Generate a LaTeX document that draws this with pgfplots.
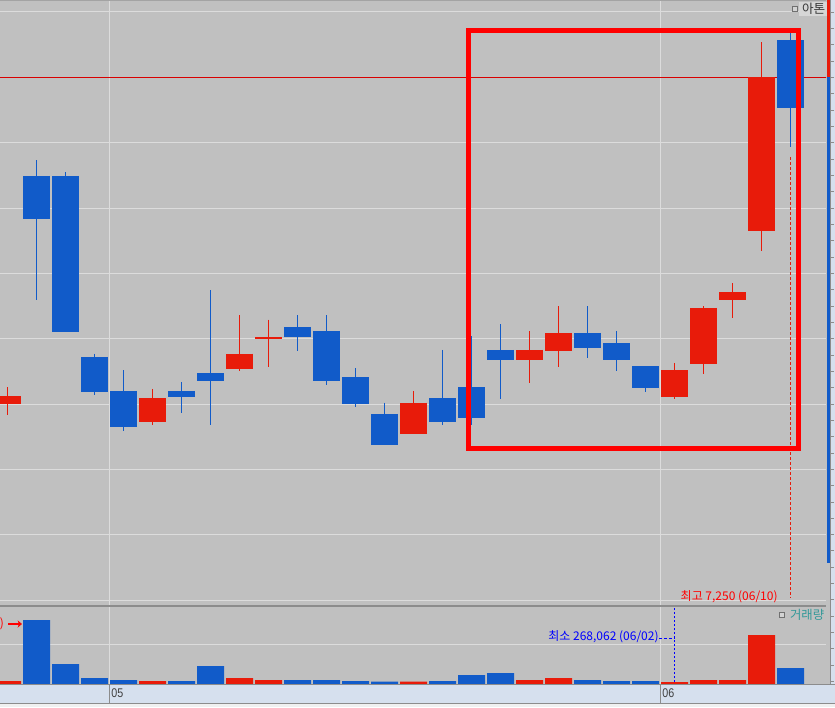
\documentclass[border=0pt]{standalone}
\usepackage{pgfplots}
\pgfplotsset{compat=1.18}
\usepackage{pgfplotstable}
\usepackage{fontspec}
\setmainfont{Liberation Sans}
\newfontfamily\kr{Noto Sans CJK KR}
\usetikzlibrary{arrows.meta}
\definecolor{bgc}{HTML}{C0C0C0}
\definecolor{gridc}{HTML}{DCDCDC}
\definecolor{upc}{HTML}{E81B0A}
\definecolor{dnc}{HTML}{115BC9}
\definecolor{sepc}{HTML}{8C8C8C}
\definecolor{stripc}{HTML}{D6E0EE}
\definecolor{tealc}{HTML}{339999}
\definecolor{boxc}{HTML}{FF0000}
\definecolor{prc}{HTML}{D80000}

% up (red) candles: index, open, high, low, close
\pgfplotstableread{
i O H L C
0 4400 4530 4315 4460
5 4260 4515 4240 4445
8 4670 5080 4650 4785
9 4901 5045 4685 4909
14 4170 4500 4170 4410
18 4735 4960 4560 4815
19 4805 5150 4685 4945
23 4455 4715 4440 4660
24 4705 5150 4630 5135
25 5195 5325 5060 5255
26 5725 7170 5570 6900
}\up
% down (blue) candles
\pgfplotstableread{
i O H L C
1 6145 6265 5195 5815
2 6145 6175 4950 4950
3 4760 4785 4470 4490
4 4500 4660 4195 4225
6 4500 4570 4330 4455
7 4635 5270 4240 4575
10 4990 5080 4805 4915
11 4960 5080 4545 4575
12 4605 4675 4375 4400
13 4325 4410 4085 4085
15 4445 4815 4240 4260
16 4530 4920 4240 4295
17 4815 5010 4440 4735
20 4945 5150 4750 4830
21 4865 4960 4650 4735
22 4690 4690 4490 4520
27 7185 7250 6365 6665
}\dn
% volume (thousands)
\pgfplotstableread{
i v
0 402
5 402
8 804
9 536
14 320
18 536
19 804
23 268.062
24 536
25 536
26 6568
}\vup
\pgfplotstableread{
i v
1 8578
2 2681
3 804
4 536
6 402
7 2413
10 536
11 536
12 402
13 330
15 402
16 1206
17 1474
20 536
21 402
22 402
27 2144
}\vdn

\begin{document}
\begin{tikzpicture}
\useasboundingbox (0,0) rectangle (417.5pt,-353.5pt);
\fill[bgc] (0,0) rectangle (417.5pt,-342.5pt);
% right price strip
\fill[stripc] (415pt,0) rectangle (417.5pt,-342.5pt);
\draw[sepc, line width=0.5pt] (415.25pt,0) -- (415.25pt,-342.5pt);
\foreach \k in {0,...,41} {\draw[sepc, line width=0.4pt] (415.5pt,-6pt-\k*8.165pt) -- ++(1.5pt,0);}
% date strip
\fill[stripc] (0,-342.5pt) rectangle (417.5pt,-351.5pt);
\fill[white!94!black] (0,-351.5pt) rectangle (417.5pt,-353.5pt);

\begin{axis}[
  at={(0pt,0pt)}, anchor=north west,
  scale only axis, width=413pt, height=303pt,
  xmin=-0.25862, xmax=28.22414,
  ymin=2854.1, ymax=7491.8,
  axis line style={draw=none},
  major tick length=0pt,
  scaled ticks=false,
  xtick={3.5,22.5}, ytick={2900,3400,...,7400},
  xticklabels={}, yticklabels={},
  grid=major, grid style={draw=gridc, line width=0.5pt},
]
\addplot[prc, line width=0.5pt, mark=none] coordinates {(-0.3,6900) (28.3,6900)};
% wicks
\addplot[mark=none, draw=none, error bars/.cd, y dir=minus, y explicit, error mark=none,
  error bar style={draw=upc, line width=0.5pt}]
  table[x=i, y=H, y error minus expr=\thisrow{H}-\thisrow{L}] {\up};
\addplot[mark=none, draw=none, error bars/.cd, y dir=minus, y explicit, error mark=none,
  error bar style={draw=dnc, line width=0.5pt}]
  table[x=i, y=H, y error minus expr=\thisrow{H}-\thisrow{L}] {\dn};
% bodies
\addplot[mark=none, draw=none, error bars/.cd, y dir=minus, y explicit, error mark=none,
  error bar style={draw=upc, line width=13.5pt}]
  table[x=i, y=C, y error minus expr=\thisrow{C}-\thisrow{O}] {\up};
\addplot[mark=none, draw=none, error bars/.cd, y dir=minus, y explicit, error mark=none,
  error bar style={draw=dnc, line width=13.5pt}]
  table[x=i, y=O, y error minus expr=\thisrow{O}-\thisrow{C}] {\dn};
% high marker line
\addplot[upc, line width=0.5pt, dash pattern=on 1.5pt off 1pt, mark=none] coordinates {(27,6290) (27,2915)};
\end{axis}

\begin{axis}[
  at={(0pt,-303pt)}, anchor=north west,
  scale only axis, width=413pt, height=39pt,
  xmin=-0.25862, xmax=28.22414,
  ymin=0, ymax=10454.4,
  axis line style={draw=none},
  major tick length=0pt,
  scaled ticks=false,
  xtick={3.5,22.5}, ytick={5361.2},
  xticklabels={}, yticklabels={},
  grid=major, grid style={draw=gridc, line width=0.5pt},
  ybar, bar width=13.5pt, bar shift=0pt,
]
\addplot[fill=upc, draw=none] table[x=i, y=v] {\vup};
\addplot[fill=dnc, draw=none] table[x=i, y=v] {\vdn};
\draw[blue, line width=0.5pt, dash pattern=on 1pt off 1pt] (axis cs:23,268) -- (axis cs:23,10454);
\draw[blue, line width=0.5pt, dash pattern=on 1.5pt off 1pt] (axis cs:22.466,6165) -- (axis cs:23,6165);
\end{axis}

% separators
\draw[sepc!80!white, line width=0.5pt] (0,-0.25pt) -- (413pt,-0.25pt);
\draw[sepc, line width=0.6pt] (0,-303pt) -- (413pt,-303pt);
\draw[sepc, line width=0.6pt] (0,-342.3pt) -- (417.5pt,-342.3pt);
\draw[sepc, line width=0.5pt] (54.65pt,-342.5pt) -- (54.65pt,-351.5pt);
\draw[sepc, line width=0.5pt] (330.15pt,-342.5pt) -- (330.15pt,-351.5pt);
\draw[sepc, line width=0.4pt] (0,-351.5pt) -- (417.5pt,-351.5pt);

% right-side range bar
\fill[upc] (413.5pt,0) rectangle (415pt,-38.5pt);
\fill[dnc] (413.5pt,-38.5pt) rectangle (415pt,-281.5pt);

% highlight box
\draw[boxc, line width=2.5pt] (234.25pt,-15.25pt) rectangle (399.25pt,-224pt);

% title label
\fill[white!84!black] (399.5pt,-0.75pt) rectangle (413.5pt,-8pt);
\draw[sepc!80!black, line width=0.4pt, fill=bgc!70!white] (396pt,-3pt) rectangle (398.5pt,-5.5pt);
\node[anchor=west, inner sep=0pt, text=black!78] at (400.8pt,-4.4pt) {\kr\fontsize{6.3pt}{7pt}\selectfont 아톤};

% volume label
\draw[sepc!80!black, line width=0.4pt, fill=bgc!70!white] (389.5pt,-306pt) rectangle (392pt,-308.5pt);
\node[anchor=west, inner sep=0pt, text=tealc] at (394.8pt,-307.3pt) {\kr\fontsize{6.2pt}{7pt}\selectfont 거래량};

% annotations
\node[anchor=east, inner sep=0pt, text=red] at (389pt,-298.5pt) {\kr\fontsize{6pt}{7pt}\selectfont 최고 7,250 (06/10)};
\node[anchor=east, inner sep=0pt, text=blue] at (329.5pt,-318.6pt) {\kr\fontsize{6pt}{7pt}\selectfont 최소 268,062 (06/02)};
\node[anchor=east, inner sep=0pt, text=red] at (2.2pt,-312pt) {\kr\fontsize{6pt}{7pt}\selectfont 최대 8,578,155 (04/28)};
\draw[red, line width=0.6pt, -{Stealth[length=2.2pt,width=3.6pt]}] (4pt,-312pt) -- (11pt,-312pt);

% dates
\node[anchor=west, inner sep=0pt, text=black!75, xscale=0.85] at (55.5pt,-346.4pt) {\fontsize{6.3pt}{7pt}\selectfont 05};
\node[anchor=west, inner sep=0pt, text=black!75, xscale=0.85] at (331pt,-346.6pt) {\fontsize{6.3pt}{7pt}\selectfont 06};
\end{tikzpicture}
\end{document}
